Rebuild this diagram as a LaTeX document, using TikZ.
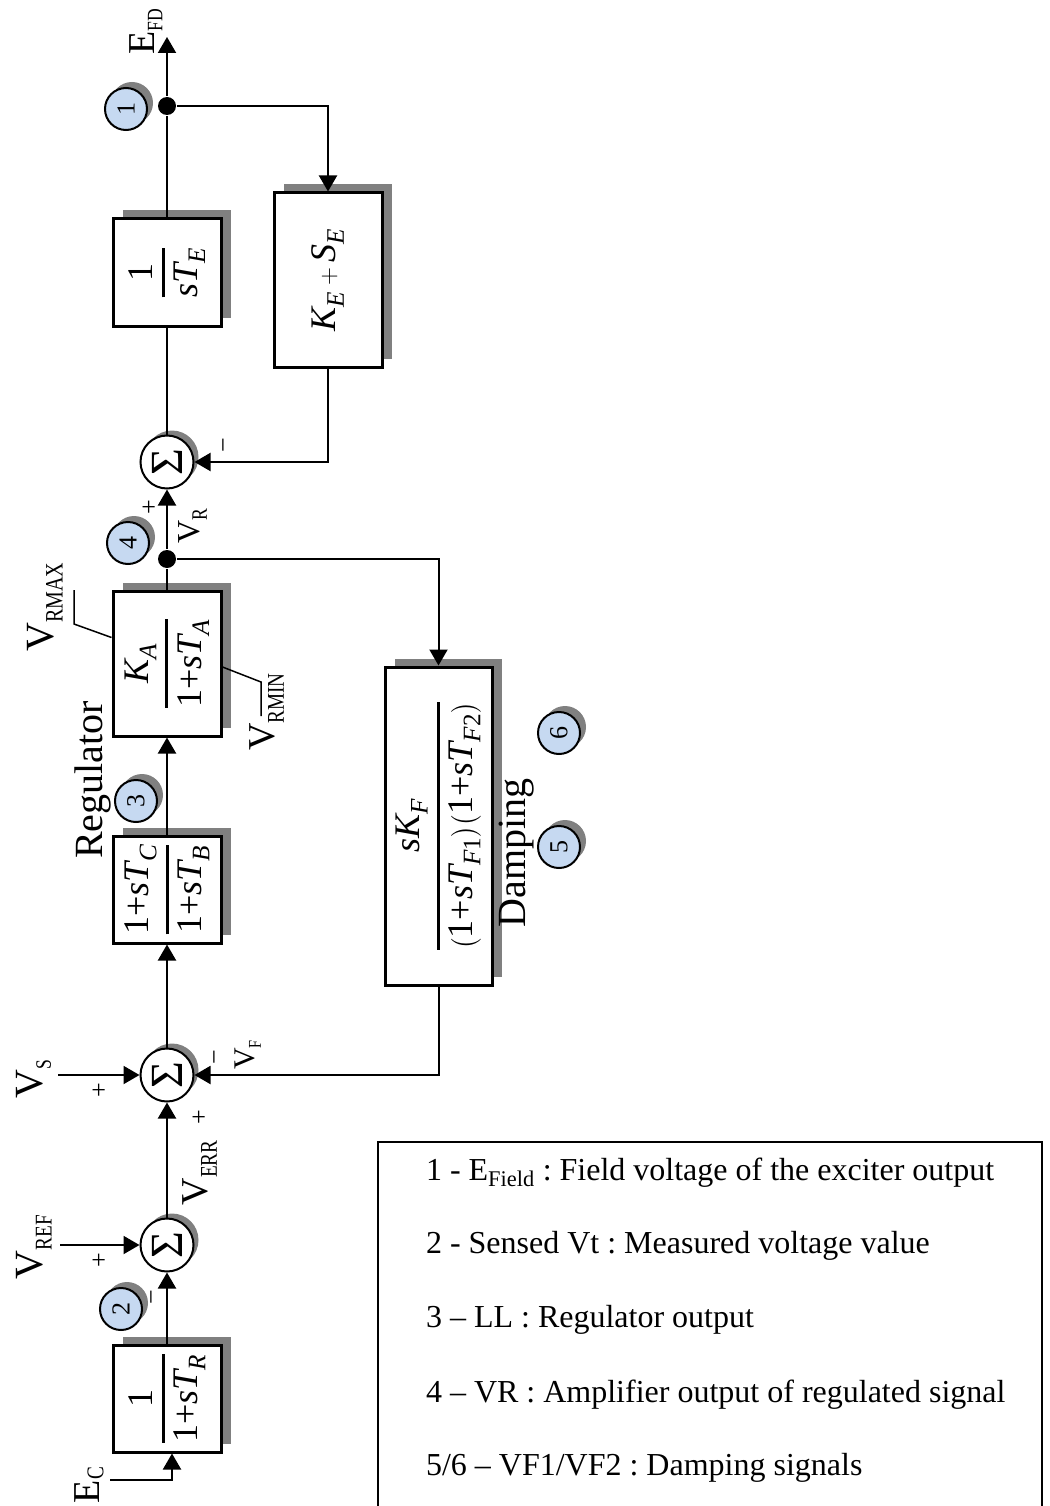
\documentclass[tikz,border=0pt]{standalone}
\usepackage{fontspec}
\usepackage{amsmath}
\setmainfont{Liberation Serif}
\usetikzlibrary{arrows.meta,shadows,calc}
\definecolor{cblue}{RGB}{198,217,241}
\definecolor{sgray}{RGB}{128,128,128}
\newcommand\mi[1]{\textit{#1}}
\newcommand\sub[3]{\raisebox{-#2pt}{\scalebox{0.8}[1]{\fontsize{#1}{#1}\selectfont #3}}}
\frenchspacing
\begin{document}
\begin{tikzpicture}[x=1pt,y=-1pt,
  line width=2pt,
  arr/.style={-{Triangle[length=16pt,width=18pt]}},
  blk/.style={draw, line width=3pt, fill=white, inner sep=0pt,
    font=\fontsize{36}{42}\selectfont,
    drop shadow={shadow xshift=9.5pt, shadow yshift=8.5pt, fill=sgray, opacity=1}},
  sumc/.style={circle, draw, line width=2pt, fill=white, minimum size=53pt, inner sep=0pt,
    font=\fontsize{46}{48}\selectfont,
    drop shadow={shadow xshift=5pt, shadow yshift=5pt, fill=sgray, opacity=1}},
  num/.style={circle, draw, line width=2pt, fill=cblue, minimum size=42pt, inner sep=0pt,
    font=\fontsize{26}{28}\selectfont,
    drop shadow={shadow xshift=6pt, shadow yshift=6pt, fill=sgray, opacity=1}},
  lab/.style={rotate=90, inner sep=0pt, font=\fontsize{40}{44}\selectfont},
  sgn/.style={rotate=90, inner sep=0pt, font=\fontsize{26}{28}\selectfont},
  jdot/.style={circle, fill, minimum size=18pt, inner sep=0pt},
  lead/.style={line width=1.5pt},
  legtxt/.style={anchor=base west, inner sep=0pt, font=\fontsize{32}{36}\selectfont}
]
\useasboundingbox (0,0) rectangle (1049,1506);

% blocks
\node[blk, minimum width=108pt, minimum height=107pt] (bE) at (167,272.5)
  {\rotatebox{90}{$\genfrac{}{}{3pt}{0}{\text{1}}{\mi{sT}_{\mi{E}}}$}};
\node[blk, minimum width=108pt, minimum height=174pt] (bK) at (328,280)
  {\rotatebox{90}{$\mi{K}_{\mi{E}}+\mi{S}_{\mi{E}}$}};
\node[blk, minimum width=108pt, minimum height=145pt] (bA) at (167,663.5)
  {\rotatebox{90}{$\genfrac{}{}{3pt}{0}{\mi{K}_{\mi{A}}}{\text{1+}\mi{sT}_{\mi{A}}}$}};
\node[blk, minimum width=108pt, minimum height=107pt] (bLL) at (167,889.5)
  {\rotatebox{90}{$\genfrac{}{}{3pt}{0}{\text{1+}\mi{sT}_{\mi{C}}}{\text{1+}\mi{sT}_{\mi{B}}}$}};
\node[blk, minimum width=108pt, minimum height=107pt] (bR) at (167,1398.5)
  {\rotatebox{90}{$\genfrac{}{}{3pt}{0}{\text{1}}{\text{1+}\mi{sT}_{\mi{R}}}$}};
\node[blk, minimum width=107pt, minimum height=318pt] (bD) at (438.5,826)
  {\rotatebox{90}{$\genfrac{}{}{3pt}{0}{\mi{sK}_{\mi{F}}}{\bigl(\text{1+}\mi{sT}_{\mi{F}\text{1}}\bigr)\bigl(\text{1+}\mi{sT}_{\mi{F}\text{2}}\bigr)}$}};

% summing junctions
\node[sumc] (sE) at (167,462) {\rotatebox{90}{Σ}};
\node[sumc] (sF) at (167,1075) {\rotatebox{90}{Σ}};
\node[sumc] (sR) at (167,1245) {\rotatebox{90}{Σ}};

% junction dots
\node[jdot] (j1) at (167,106) {};
\node[jdot] (j2) at (167,559) {};

% free ends
\coordinate (efd) at (167,37);
\coordinate (vs) at (58,1075);
\coordinate (vref) at (60,1245);
\coordinate (ec) at (110,1480);

% connectors
\draw[arr] (j1) -- (efd);
\draw (bE.north) -- (j1);
\draw[arr] (j1) -| (bK.north);
\draw[arr] (bK.south) |- (sE.east);
\draw (sE.north) -- (bE.south);
\draw (bA.north) -- (j2);
\draw[arr] (j2) -- (sE.south);
\draw[arr] (j2) -| (bD.north);
\draw[arr] (bLL.north) -- (bA.south);
\draw[arr] (sF.north) -- (bLL.south);
\draw[arr] (bD.south) |- (sF.east);
\draw[arr] (vs) -- (sF.west);
\draw[arr] (sR.north) -- (sF.south);
\draw[arr] (vref) -- (sR.west);
\draw[arr] (bR.north) -- (sR.south);
\draw[arr] (ec) -| ([xshift=5pt]bR.south);

% limiter leaders
\coordinate (rmaxA) at (74,624);
\coordinate (rmaxB) at (74,590);
\coordinate (rminA) at (261,682);
\coordinate (rminB) at (261,716);
\draw[lead] ([yshift=26pt]bA.west) -- (rmaxA) -- (rmaxB);
\draw[lead] ([yshift=-3.5pt]bA.east) -- (rminA) -- (rminB);

% numbered markers
\node[num] (n1) at (126,109) {\rotatebox{90}{1}};
\node[num] (n2) at (121,1309) {\rotatebox{90}{2}};
\node[num] (n3) at (136,801) {\rotatebox{90}{3}};
\node[num] (n4) at (128,543) {\rotatebox{90}{4}};
\node[num] (n5) at (559,847) {\rotatebox{90}{5}};
\node[num] (n6) at (559,733) {\rotatebox{90}{6}};

% labels
\node[lab, font=\fontsize{38}{40}\selectfont] (lEFD) at (146,32) {E\sub{22}{8}{FD}};
\node[lab, font=\fontsize{32}{36}\selectfont] (lVR) at (193,526) {V\sub{22}{7}{R}};
\node[lab] (lVRMAX) at (45,607) {V\sub{25}{9}{RMAX}};
\node[lab, font=\fontsize{38}{40}\selectfont] (lVRMIN) at (267,712) {V\sub{24}{9}{RMIN}};
\node[lab] (lReg) at (93,780) {Regulator};
\node[lab] (lDamp) at (517,853) {Damping};
\node[lab] (lVS) at (34,1079) {V\sub{22}{8}{S}};
\node[lab, font=\fontsize{30}{32}\selectfont] (lVF) at (248,1055) {V\sub{18}{6}{F}};
\node[lab, font=\fontsize{38}{40}\selectfont] (lVERR) at (200,1173) {V\sub{24}{9}{ERR}};
\node[lab] (lVREF) at (34,1247) {V\sub{24}{9}{REF}};
\node[lab, font=\fontsize{38}{40}\selectfont] (lEC) at (89,1485) {E\sub{24}{4}{C}};

% signs
\node[sgn] (p1) at (150,507) {+};
\node[sgn] (m1) at (227,445) {−};
\node[sgn] (p2) at (100,1090) {+};
\node[sgn] (m2) at (218,1057) {−};
\node[sgn] (p3) at (200,1117) {+};
\node[sgn] (p4) at (100,1260) {+};
\node[sgn] (m3) at (155,1297) {−};

% legend
\draw[line width=2.5pt] (378,1510) -- (378,1142) -- (1042,1142) -- (1042,1510);
\node[legtxt] (t1) at (425,1180) {1 - E\textsubscript{Field} : Field voltage of the exciter output};
\node[legtxt] (t2) at (425,1253) {2 - Sensed Vt : Measured voltage value};
\node[legtxt] (t3) at (425,1327) {3 – LL : Regulator output};
\node[legtxt] (t4) at (425,1402) {4 – VR : Amplifier output of regulated signal};
\node[legtxt] (t5) at (425,1475) {5/6 – VF1/VF2 : Damping signals};
\end{tikzpicture}
\end{document}
